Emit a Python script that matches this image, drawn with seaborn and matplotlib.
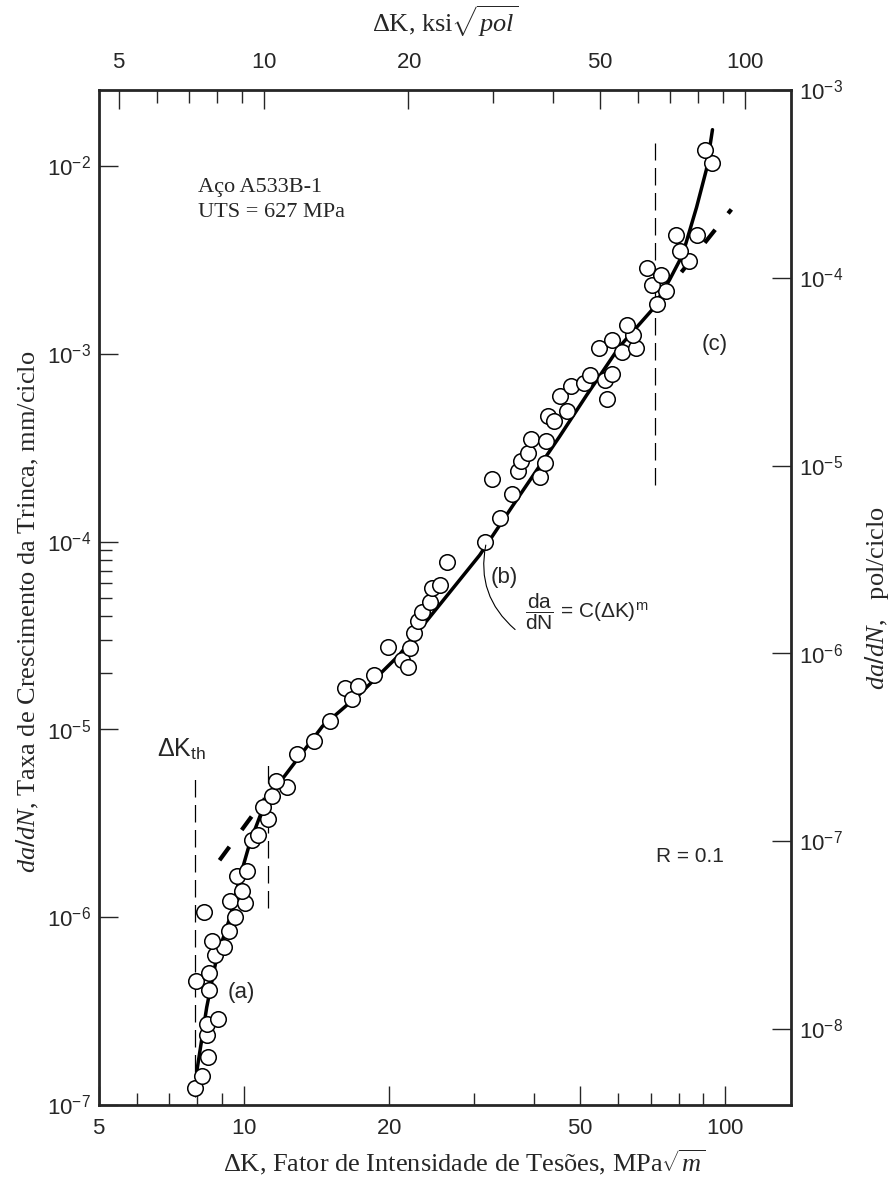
import math
import seaborn as sns
import matplotlib.pyplot as plt
from matplotlib.ticker import NullFormatter

# Dados (ΔK em MPa√m, da/dN em mm/ciclo)
dk_pontos = [7.90, 8.17, 8.41, 8.37, 8.37, 8.82, 8.45, 7.94, 8.45, 8.70, 9.08, 8.57, 9.30,
             8.25, 9.57, 9.35, 10.04, 9.90, 9.66, 10.13, 10.38, 10.68, 11.20, 10.94, 11.42,
             12.27, 11.64, 12.87, 13.96, 15.07,
             16.19, 16.74, 17.23, 18.60, 19.89, 21.27, 21.89, 22.10, 22.52, 22.96, 23.40,
             24.31, 24.54, 25.50, 26.37, 31.62, 32.70, 33.98, 35.99, 37.03, 37.57,
             38.84, 39.40, 41.14, 42.14, 42.34, 42.75, 43.99, 45.27, 46.82, 47.72,
             51.0, 52.3, 56.7, 56.2, 58.3, 54.6, 60.9, 65.4, 58.1, 64.2, 62.4, 72.0, 75.5,
             70.3, 73.4, 68.9, 84.3, 80.4, 79.2, 87.2, 94.1, 90.6]
taxa_pontos = [1.23e-7, 1.43e-7, 1.80e-7, 2.35e-7, 2.69e-7, 2.86e-7, 4.07e-7, 4.55e-7, 5.07e-7,
               6.32e-7, 6.97e-7, 7.50e-7, 8.47e-7, 1.07e-6, 1.00e-6, 1.22e-6, 1.19e-6, 1.38e-6,
               1.66e-6, 1.76e-6, 2.56e-6, 2.73e-6, 3.35e-6, 3.84e-6, 4.44e-6, 4.95e-6, 5.32e-6,
               7.40e-6, 8.67e-6, 1.107e-5,
               1.67e-5, 1.45e-5, 1.71e-5, 1.94e-5, 2.76e-5, 2.35e-5, 2.16e-5, 2.72e-5, 3.27e-5,
               3.78e-5, 4.22e-5, 4.77e-5, 5.65e-5, 5.86e-5, 7.75e-5, 1.00e-4, 2.16e-4,
               1.33e-4, 1.80e-4, 2.38e-4, 2.69e-4, 2.97e-4, 3.52e-4, 2.21e-4, 2.62e-4, 3.44e-4,
               4.66e-4, 4.39e-4, 5.94e-4, 4.95e-4, 6.71e-4,
               6.97e-4, 7.68e-4, 5.73e-4, 7.22e-4, 7.77e-4, 1.07e-3, 1.02e-3, 1.07e-3, 1.19e-3,
               1.26e-3, 1.43e-3, 1.85e-3, 2.16e-3, 2.33e-3, 2.63e-3, 2.86e-3, 3.12e-3, 3.52e-3,
               4.28e-3, 4.28e-3, 1.04e-2, 1.21e-2]

# curva média
dk_curva = [7.98, 8.37, 8.78, 9.35, 9.80, 10.28, 11.05, 12.03, 14.57, 17.4, 21.06, 25.5,
            30.9, 37.4, 45.3, 51.5, 60.3, 70.3, 76.6, 81.5, 87.2, 91.4, 94.1]
taxa_curva = [1.50e-7, 3.31e-7, 6.09e-7, 9.91e-7, 1.61e-6, 2.47e-6, 4.03e-6, 5.46e-6, 1.04e-5,
              1.54e-5, 2.50e-5, 4.60e-5, 8.47e-5, 1.76e-4, 3.63e-4, 6.00e-4, 1.09e-3, 1.70e-3,
              2.47e-3, 3.35e-3, 6.02e-3, 9.56e-3, 1.56e-2]

# extensões tracejadas do regime linear (Paris)
dk_ext_a = [8.90, 11.05]
taxa_ext_a = [2.01e-6, 4.28e-6]
dk_ext_c = [81.1, 103.0]
taxa_ext_c = [2.72e-3, 5.87e-3]

# limites das regiões (a), (b), (c)
dk_limites = [7.92, 11.20, 71.6]
taxa_lim_inf = [1.1e-7, 1.12e-6, 1.99e-4]
taxa_lim_sup = [5.66e-6, 6.79e-6, 1.33e-2]

x_ticks = [5, 10, 20, 50, 100]
x_minor = [6, 7, 8, 9, 30, 40, 60, 70, 80, 90]
y_ticks = [1e-7, 1e-6, 1e-5, 1e-4, 1e-3, 1e-2]
y_minor = [2e-5, 3e-5, 4e-5, 5e-5, 6e-5, 7e-5, 8e-5, 9e-5]
y2_ticks = [1e-8, 1e-7, 1e-6, 1e-5, 1e-4, 1e-3]

sns.set_style('ticks')
plt.rcParams['font.family'] = ['Liberation Serif', 'DejaVu Serif']
plt.rcParams['mathtext.fontset'] = 'custom'
plt.rcParams['mathtext.rm'] = 'Liberation Sans'
plt.rcParams['mathtext.it'] = 'Liberation Serif:italic'
plt.rcParams['mathtext.bf'] = 'Liberation Sans:bold'

fig = plt.figure(figsize=(8.96, 11.8), dpi=100)
ax = fig.add_axes([0.1105, 0.0636, 0.7723, 0.8602])

for xv, y0, y1 in zip(dk_limites, taxa_lim_inf, taxa_lim_sup):
    ax.plot([xv, xv], [y0, y1], color='black', lw=0.9, dashes=(14, 6))

sns.lineplot(x=dk_ext_a, y=taxa_ext_a, color='black', lw=3, ax=ax, estimator=None, sort=False)
sns.lineplot(x=dk_ext_c, y=taxa_ext_c, color='black', lw=3, ax=ax, estimator=None, sort=False)
for ln in ax.lines[-2:]:
    ln.set_dashes((4, 5))
sns.lineplot(x=dk_curva, y=taxa_curva, color='black', lw=2.5, ax=ax, estimator=None, sort=False)
sns.scatterplot(x=dk_pontos, y=taxa_pontos, s=125, color='white', edgecolor='black',
                linewidth=1.1, ax=ax, zorder=3)

ax.set_xscale('log')
ax.set_yscale('log')
ax.set_xlim(5, 137)
ax.set_ylim(1e-7, 2.54e-2)

ax.set_xticks(x_ticks, labels=['$%d$' % v for v in x_ticks])
ax.set_xticks(x_minor, minor=True)
ax.xaxis.set_minor_formatter(NullFormatter())
ax.set_yticks(y_ticks, labels=['$10^{%d}$' % round(math.log10(v)) for v in y_ticks])
ax.set_yticks(y_minor, minor=True)
ax.yaxis.set_minor_formatter(NullFormatter())
ax.tick_params(which='major', direction='in', length=14, width=1, labelsize=16, pad=11)
ax.tick_params(which='minor', direction='in', length=9, width=1)
ax.tick_params(axis='y', which='major', pad=6)

for sp in ax.spines.values():
    sp.set_linewidth(2)
    sp.set_visible(True)

# eixo superior em ksi√pol
topo = ax.secondary_xaxis('top', functions=(lambda v: v / 1.0988, lambda v: v * 1.0988))
topo.set_xticks(x_ticks, labels=['$%d$' % v for v in x_ticks])
topo.set_xticks(x_minor, minor=True)
topo.xaxis.set_minor_formatter(NullFormatter())
topo.tick_params(which='major', direction='in', length=14, width=1, labelsize=16, pad=12)
topo.tick_params(which='minor', direction='in', length=9, width=1)
topo.set_xlabel(r'ΔK, ksi$\sqrt{pol}$', fontsize=19, labelpad=16)

# eixo direito em pol/ciclo
direita = ax.secondary_yaxis('right', functions=(lambda v: v / 25.4, lambda v: v * 25.4))
direita.set_yticks(y2_ticks, labels=['$10^{%d}$' % e for e in range(-8, -2)])
direita.yaxis.set_minor_locator(plt.NullLocator())
direita.tick_params(which='major', direction='in', length=14, width=1, labelsize=16, pad=6)
direita.set_ylabel(r'$da/dN$,   pol/ciclo', fontsize=19, labelpad=14)

ax.set_xlabel(r'ΔK, Fator de Intensidade de Tesões, MPa$\sqrt{m}$', fontsize=19, labelpad=6)
ax.xaxis.label.set_x(0.528)
ax.set_ylabel(r'$da/dN$, Taxa de Crescimento da Trinca, mm/ciclo', fontsize=19, labelpad=4)
ax.yaxis.label.set_y(0.486)

ax.text(8.01, 7.68e-3, 'Aço A533B-1', fontsize=16, va='center')
ax.text(8.01, 5.66e-3, 'UTS = 627 MPa', fontsize=16, va='center')
sans = ['Liberation Sans', 'DejaVu Sans']
ax.text(6.59, 7.87e-6, r'ΔK$_{\mathrm{th}}$', fontsize=18, family=sans, va='center')
ax.text(9.9, 3.97e-7, '(a)', fontsize=16, family=sans, va='center', ha='center')
ax.text(34.8, 6.4e-5, '(b)', fontsize=16, family=sans, va='center', ha='center')
ax.text(95.0, 1.12e-3, '(c)', fontsize=16, family=sans, va='center', ha='center')
ax.text(84.3, 2.11e-6, 'R = 0.1', fontsize=15, family=sans, va='center', ha='center')
ax.text(38.3, 4.23e-5, r'$\dfrac{\mathrm{da}}{\mathrm{dN}}$ = C(ΔK)$^{\mathrm{m}}$', fontsize=15,
        family=sans, va='center', ha='left')
ax.annotate('', xy=(31.9, 9.9e-5), xytext=(36.6, 3.4e-5),
            arrowprops=dict(arrowstyle='-', lw=0.8, color='black',
                            connectionstyle='arc3,rad=-0.3', shrinkA=0, shrinkB=2))

plt.savefig('out.png', dpi=100)
